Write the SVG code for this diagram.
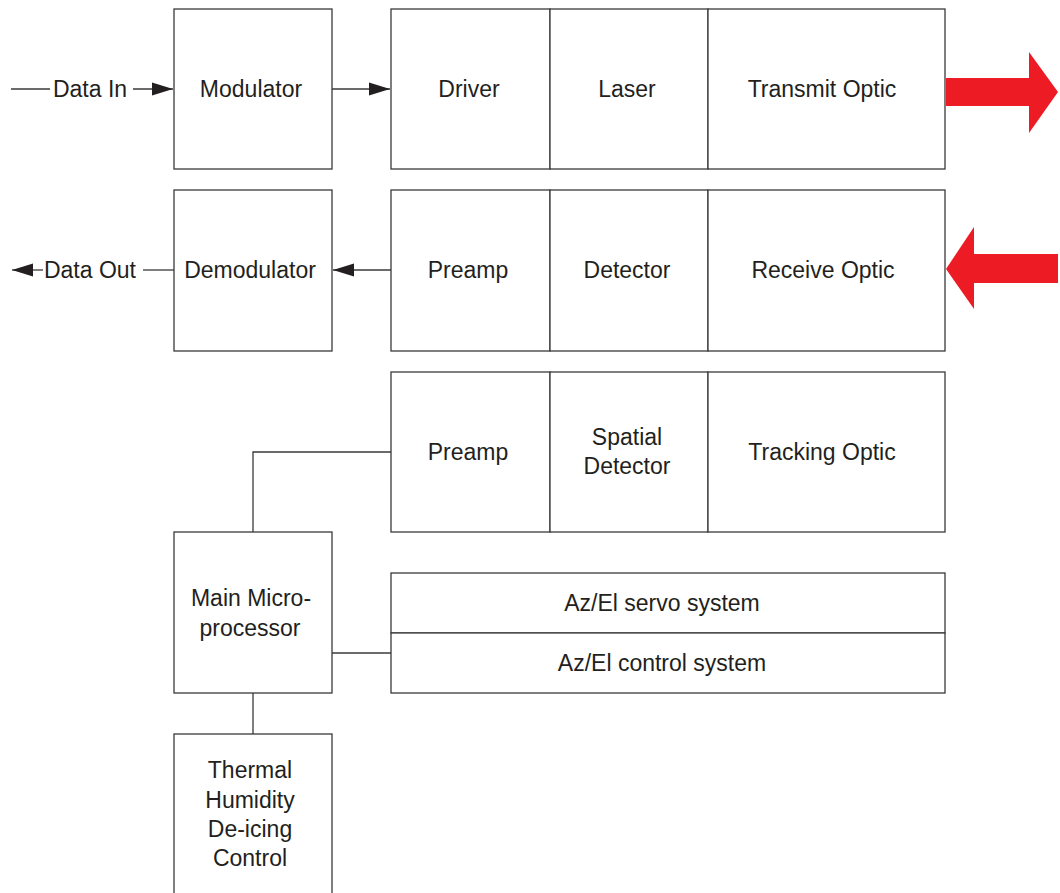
<svg xmlns="http://www.w3.org/2000/svg" width="1060" height="893" viewBox="0 0 1060 893">
<style>
.box{fill:#fff;stroke:#3a3a3a;stroke-width:1.3}
.ln{fill:none;stroke:#3a3a3a;stroke-width:1.3}
.t{font-family:"Liberation Sans",Arial,sans-serif;font-size:23px;fill:#231f20;text-anchor:middle}
.red{fill:#ed1c24}
</style>
<defs>
<marker id="ah" markerWidth="22" markerHeight="14" refX="21" refY="7" orient="auto" markerUnits="userSpaceOnUse">
<polygon points="0,0.5 21,7 0,13.5" fill="#231f20"/>
</marker>
</defs>
<rect width="1060" height="893" fill="#fff"/>
<g id="connectors">
<line class="ln" x1="11" y1="89" x2="50" y2="89"/>
<line class="ln" x1="133" y1="89" x2="173" y2="89" marker-end="url(#ah)"/>
<line class="ln" x1="332" y1="89" x2="390" y2="89" marker-end="url(#ah)"/>
<line class="ln" x1="391" y1="270" x2="333" y2="270" marker-end="url(#ah)"/>
<line class="ln" x1="174" y1="270" x2="143" y2="270"/>
<line class="ln" x1="43" y1="270" x2="12" y2="270" marker-end="url(#ah)"/>
<polyline class="ln" points="391,452 253,452 253,532"/>
<line class="ln" x1="332" y1="653" x2="391" y2="653"/>
<line class="ln" x1="253" y1="693" x2="253" y2="734"/>
</g>
<g id="data-in"><text class="t" x="90" y="97">Data In</text></g>
<g id="data-out"><text class="t" x="90" y="278">Data Out</text></g>
<g id="modulator"><rect class="box" x="174" y="9" width="158" height="160"/><text class="t" x="251" y="97">Modulator</text></g>
<g id="driver"><rect class="box" x="391" y="9" width="159" height="160"/><text class="t" x="469" y="97">Driver</text></g>
<g id="laser"><rect class="box" x="550" y="9" width="158" height="160"/><text class="t" x="627" y="97">Laser</text></g>
<g id="transmit-optic"><rect class="box" x="708" y="9" width="237" height="160"/><text class="t" x="822" y="97">Transmit Optic</text></g>
<g id="demodulator"><rect class="box" x="174" y="190" width="158" height="161"/><text class="t" x="250" y="278">Demodulator</text></g>
<g id="preamp1"><rect class="box" x="391" y="190" width="159" height="161"/><text class="t" x="468" y="278">Preamp</text></g>
<g id="detector"><rect class="box" x="550" y="190" width="158" height="161"/><text class="t" x="627" y="278">Detector</text></g>
<g id="receive-optic"><rect class="box" x="708" y="190" width="237" height="161"/><text class="t" x="823" y="278">Receive Optic</text></g>
<g id="preamp2"><rect class="box" x="391" y="372" width="159" height="160"/><text class="t" x="468" y="460">Preamp</text></g>
<g id="spatial-detector"><rect class="box" x="550" y="372" width="158" height="160"/><text class="t" x="627" y="445">Spatial</text><text class="t" x="627" y="474">Detector</text></g>
<g id="tracking-optic"><rect class="box" x="708" y="372" width="237" height="160"/><text class="t" x="822" y="460">Tracking Optic</text></g>
<g id="main-microprocessor"><rect class="box" x="174" y="532" width="158" height="161"/><text class="t" x="251" y="606">Main Micro-</text><text class="t" x="250" y="636">processor</text></g>
<g id="azel-servo"><rect class="box" x="391" y="573" width="554" height="60"/><text class="t" x="662" y="611">Az/El servo system</text></g>
<g id="azel-control"><rect class="box" x="391" y="633" width="554" height="60"/><text class="t" x="662" y="671">Az/El control system</text></g>
<g id="thermal"><rect class="box" x="174" y="734" width="158" height="170"/><text class="t" x="250" y="778">Thermal</text><text class="t" x="250" y="808">Humidity</text><text class="t" x="250" y="837">De-icing</text><text class="t" x="250" y="866">Control</text></g>
<g id="tx-beam"><polygon class="red" points="946,78 1029,78 1029,52 1058,92 1029,133 1029,106 946,106"/></g>
<g id="rx-beam"><polygon class="red" points="946,269 974,227 974,254 1058,254 1058,283 974,283 974,309"/></g>
</svg>
